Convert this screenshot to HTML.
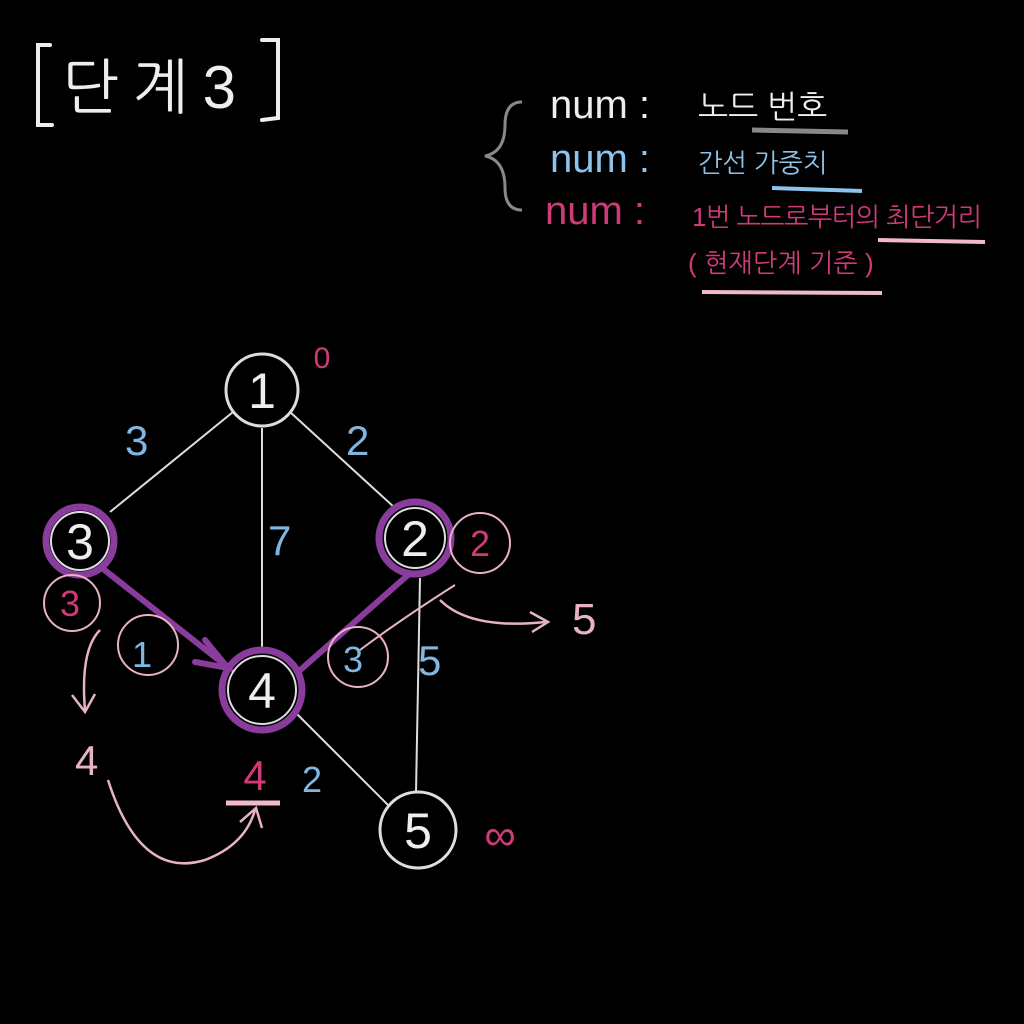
<!DOCTYPE html>
<html><head><meta charset="utf-8"><style>
html,body{margin:0;padding:0;background:#000;}
svg{display:block}
text{font-family:"Liberation Sans","NanumGothic","Noto Sans CJK KR",sans-serif;}
</style></head><body>
<svg width="1024" height="1024" viewBox="0 0 1024 1024">
<rect width="1024" height="1024" fill="#000"/>
<!-- title -->
<g fill="none" stroke="#eee" stroke-width="4" stroke-linecap="round">
  <path d="M50 45 L38 45 L38 125 L52 125"/>
  <path d="M262 40 L278 40 L278 118 L262 120"/>
  <text x="62" y="108" fill="#eee" stroke="none" font-size="60" letter-spacing="6" font-family="NanumGothic,'Noto Sans CJK KR',sans-serif" font-weight="300" textLength="180">단계3</text>
</g>
<!-- legend -->
<g>
  <path d="M522 102 Q505 102 505 125 Q505 152 485 156 Q505 160 505 188 Q505 210 522 210" fill="none" stroke="#888" stroke-width="3"/>
  <text x="550" y="118" fill="#eee" font-size="40">num :</text>
  <text x="698" y="118" fill="#eee" font-size="32" font-family="NanumGothic,'Noto Sans CJK KR',sans-serif">노드 번호</text>
  <line x1="752" y1="130" x2="848" y2="132" stroke="#888" stroke-width="5"/>
  <text x="550" y="172" fill="#8ec4ec" font-size="40">num :</text>
  <text x="698" y="172" fill="#8ec4ec" font-size="26" font-family="NanumGothic,'Noto Sans CJK KR',sans-serif">간선 가중치</text>
  <line x1="772" y1="188" x2="862" y2="191" stroke="#8ec4ec" stroke-width="4"/>
  <text x="545" y="224" fill="#d03a78" font-size="40">num :</text>
  <text x="692" y="226" fill="#d03a78" font-size="26" font-family="NanumGothic,'Noto Sans CJK KR',sans-serif" textLength="290">1번 노드로부터의 최단거리</text>
  <line x1="878" y1="240" x2="985" y2="242" stroke="#f2b8cc" stroke-width="4"/>
  <text x="688" y="272" fill="#d03a78" font-size="26" font-family="NanumGothic,'Noto Sans CJK KR',sans-serif">( 현재단계 기준 )</text>
  <line x1="702" y1="292" x2="882" y2="293" stroke="#f2b8cc" stroke-width="4"/>
</g>
<!-- edges -->
<g stroke="#ddd" stroke-width="2" fill="none">
  <line x1="233" y1="412" x2="110" y2="512"/>
  <line x1="262" y1="428" x2="262" y2="650"/>
  <line x1="290" y1="412" x2="395" y2="508"/>
  <line x1="420" y1="578" x2="416" y2="792"/>
  <line x1="295" y1="712" x2="388" y2="805"/>
  <path d="M455 585 Q400 620 360 650" stroke="#e7b2c6"/>
</g>
<g stroke="#8a3c9c" stroke-width="6" fill="none" stroke-linecap="round">
  <line x1="102" y1="568" x2="225" y2="665"/>
  <path d="M205 640 L228 668 L195 662"/>
  <line x1="408" y1="575" x2="298" y2="672"/>
</g>
<!-- edge weights -->
<g fill="#7fb6e2" font-size="42">
  <text x="125" y="455">3</text>
  <text x="268" y="555">7</text>
  <text x="346" y="455">2</text>
  <text x="418" y="675">5</text>
  <text x="302" y="792" font-size="36">2</text>
  <text x="132" y="667" font-size="36">1</text>
  <text x="343" y="672" font-size="36">3</text>
</g>
<!-- nodes -->
<g fill="none" font-size="50" text-anchor="middle">
  <g><circle cx="262" cy="390" r="36" stroke="#ddd" stroke-width="3"/><text x="262" y="408" fill="#eee" stroke="none">1</text></g>
  <g><circle cx="80" cy="541" r="34" stroke="#8a3c9c" stroke-width="7"/><circle cx="80" cy="541" r="29" stroke="#ddd" stroke-width="2"/><text x="80" y="559" fill="#eee" stroke="none">3</text></g>
  <g><circle cx="415" cy="538" r="36" stroke="#8a3c9c" stroke-width="7"/><circle cx="415" cy="538" r="30" stroke="#ddd" stroke-width="2"/><text x="415" y="556" fill="#eee" stroke="none">2</text></g>
  <g><circle cx="262" cy="690" r="40" stroke="#8a3c9c" stroke-width="7"/><circle cx="262" cy="690" r="34" stroke="#ddd" stroke-width="2"/><text x="262" y="708" fill="#eee" stroke="none">4</text></g>
  <g><circle cx="418" cy="830" r="38" stroke="#ddd" stroke-width="3"/><text x="418" y="848" fill="#eee" stroke="none">5</text></g>
</g>
<!-- distances -->
<g fill="#d03a78" font-size="36" text-anchor="middle">
  <text x="322" y="368" font-size="30">0</text>
  <circle cx="480" cy="543" r="30" fill="none" stroke="#e7b2c6" stroke-width="2"/><text x="480" y="556">2</text>
  <circle cx="72" cy="603" r="28" fill="none" stroke="#e7b2c6" stroke-width="2"/><text x="70" y="616">3</text>
  <circle cx="148" cy="645" r="30" fill="none" stroke="#e7b2c6" stroke-width="2"/>
  <circle cx="358" cy="657" r="30" fill="none" stroke="#e7b2c6" stroke-width="2"/>
  <text x="255" y="790" font-size="42">4</text>
  <line x1="226" y1="803" x2="280" y2="803" stroke="#f2b8cc" stroke-width="5"/>
  <text x="500" y="850" font-size="44">∞</text>
</g>
<!-- update annotations -->
<g fill="none" stroke="#e7b2c6" stroke-width="2.5">
  <path d="M100 630 Q80 650 85 710"/><path d="M72 695 L85 712 L95 694"/>
  <path d="M108 780 Q140 880 205 860 Q245 845 255 810"/><path d="M240 822 L256 808 L262 828"/>
  <path d="M440 600 Q470 630 545 622"/><path d="M530 612 L548 622 L532 632"/>
  <text x="572" y="634" fill="#e7b2c6" stroke="none" font-size="44">5</text>
  <text x="75" y="775" fill="#e7b2c6" stroke="none" font-size="42">4</text>
</g>
</svg>
</body></html>
